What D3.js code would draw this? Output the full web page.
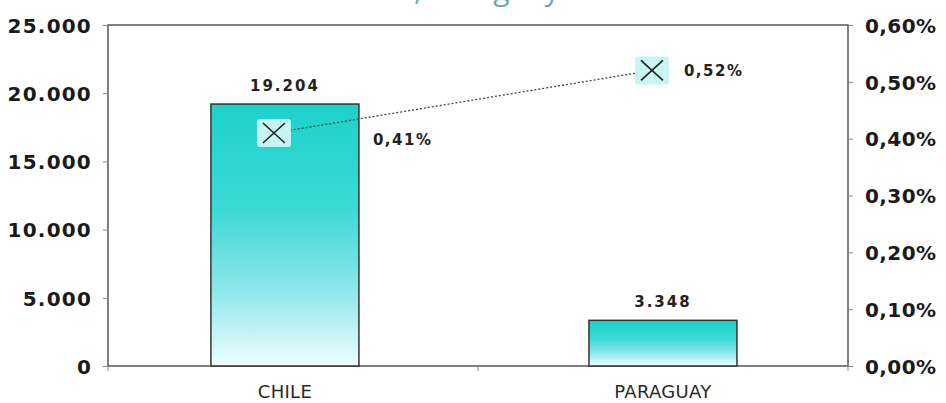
<!DOCTYPE html>
<html><head><meta charset="utf-8">
<script src="https://cdn.jsdelivr.net/npm/d3@7/dist/d3.min.js"></script>
<style>html,body{margin:0;padding:0;background:#fff;}svg{display:block;}</style>
</head><body>
<svg id="c" width="946" height="403"></svg>
<script>
const categories = ["CHILE", "PARAGUAY"];
const barValues = [19204, 3348];
const barLabels = ["19.204", "3.348"];
const pctValues = [0.41, 0.52];
const pctLabels = ["0,41%", "0,52%"];
const leftTicks = [0, 5000, 10000, 15000, 20000, 25000];
const leftTickLabels = ["0", "5.000", "10.000", "15.000", "20.000", "25.000"];
const rightTicks = [0, 0.1, 0.2, 0.3, 0.4, 0.5, 0.6];
const rightTickLabels = ["0,00%", "0,10%", "0,20%", "0,30%", "0,40%", "0,50%", "0,60%"];
const titleText = "Chile, Paraguay";

const svg = d3.select("#c");
const L = 108, R = 848, T = 25, B = 366;

const defs = svg.append("defs");
const g1 = defs.append("linearGradient").attr("id", "barGrad").attr("x1", 0).attr("y1", 0).attr("x2", 0).attr("y2", 1);
g1.append("stop").attr("offset", "0%").attr("stop-color", "#1cd2ca");
g1.append("stop").attr("offset", "40%").attr("stop-color", "#3cd8d6");
g1.append("stop").attr("offset", "70%").attr("stop-color", "#8ae6ea");
g1.append("stop").attr("offset", "100%").attr("stop-color", "#effefe");

// title (mostly cut off at top, as in the source image)
const title = svg.append("text")
  .attr("x", 0).attr("y", -0.5)
  .attr("font-family", "Open Sans")
  .attr("font-size", 30)
  .attr("fill", "#6aa8b6")
  .text(titleText);
const commaOff = title.node().getSubStringLength(0, 5);
title.attr("x", 414 - commaOff);

const x = d3.scaleBand().domain(categories).range([L, R])
  .paddingInner(0.6085).paddingOuter(0.283).align(0.481);
const yL = d3.scaleLinear().domain([0, 25000]).range([B, T]);
const yR = d3.scaleLinear().domain([0, 0.6]).range([B, T]);

// frame
svg.append("rect").attr("x", L).attr("y", T).attr("width", R - L).attr("height", B - T)
  .attr("fill", "none").attr("stroke", "#555").attr("stroke-width", 1.5);

// bars
svg.selectAll("rect.bar").data(categories).enter().append("rect")
  .attr("class", "bar")
  .attr("x", d => x(d))
  .attr("y", (d, i) => yL(barValues[i]))
  .attr("width", x.bandwidth())
  .attr("height", (d, i) => B - yL(barValues[i]))
  .attr("fill", "url(#barGrad)")
  .attr("stroke", "#333").attr("stroke-width", 1.5);

// bar labels
svg.selectAll("text.bl").data(categories).enter().append("text")
  .attr("x", d => x(d) + x.bandwidth() / 2)
  .attr("y", (d, i) => yL(barValues[i]) - 13)
  .attr("text-anchor", "middle")
  .attr("font-family", "DejaVu Sans").attr("font-weight", "bold")
  .attr("font-size", 15).attr("letter-spacing", 2)
  .attr("fill", "#222")
  .text((d, i) => barLabels[i]);

// axes
const axL = svg.append("g").attr("transform", `translate(${L},0)`)
  .call(d3.axisLeft(yL).tickValues(leftTicks).tickSize(5).tickFormat((d, i) => leftTickLabels[i]).tickPadding(11));
axL.select(".domain").remove();
axL.selectAll("line").attr("stroke", "#888");
axL.selectAll("text").attr("font-family", "DejaVu Sans").attr("font-weight", "bold")
  .attr("font-size", 20).attr("fill", "#1a1a1a").attr("letter-spacing", 1.2).attr("dy", "0.36em");

const axR = svg.append("g").attr("transform", `translate(${R},0)`)
  .call(d3.axisRight(yR).tickValues(rightTicks).tickSize(5).tickFormat((d, i) => rightTickLabels[i]).tickPadding(12));
axR.select(".domain").remove();
axR.selectAll("line").attr("stroke", "#888");
axR.selectAll("text").attr("font-family", "DejaVu Sans").attr("font-weight", "bold")
  .attr("font-size", 20).attr("fill", "#1a1a1a").attr("letter-spacing", 0.4).attr("dy", "0.36em");

const axB = svg.append("g").attr("transform", `translate(0,${B})`)
  .call(d3.axisBottom(x).tickSize(0).tickPadding(19));
axB.select(".domain").remove();
axB.selectAll("text").attr("font-family", "DejaVu Sans").attr("font-size", 18)
  .attr("fill", "#2a2a2a").attr("letter-spacing", 0.3);
// category boundary ticks
const bounds = [L, (L + R) / 2, R];
svg.selectAll("line.bt").data(bounds).enter().append("line")
  .attr("x1", d => d).attr("x2", d => d).attr("y1", B).attr("y2", B + 5)
  .attr("stroke", "#888");

// line series
const shift = -11;
const pts = categories.map((c, i) => [x(c) + x.bandwidth() / 2 + shift, yR(pctValues[i])]);
svg.append("path").attr("d", d3.line()(pts))
  .attr("fill", "none").attr("stroke", "#444").attr("stroke-width", 1.3).attr("stroke-dasharray", "2,2");

const mk = svg.selectAll("g.mk").data(pts).enter().append("g")
  .attr("transform", d => `translate(${d[0]},${d[1]})`);
mk.append("rect").attr("x", -17).attr("y", -14).attr("width", 34).attr("height", 28).attr("rx", 3)
  .attr("fill", "#c6f5f3");
mk.append("path").attr("d", "M-11,-10L11,10M-11,10L11,-10").attr("stroke", "#222").attr("stroke-width", 1.6);

const labelDx = [99, 32], labelDy = [12, 6];
svg.selectAll("text.pl").data(pts).enter().append("text")
  .attr("x", (d, i) => d[0] + labelDx[i])
  .attr("y", (d, i) => d[1] + labelDy[i])
  .attr("font-family", "DejaVu Sans").attr("font-weight", "bold")
  .attr("font-size", 15).attr("letter-spacing", 1.5).attr("fill", "#222")
  .text((d, i) => pctLabels[i]);
</script>
</body></html>
